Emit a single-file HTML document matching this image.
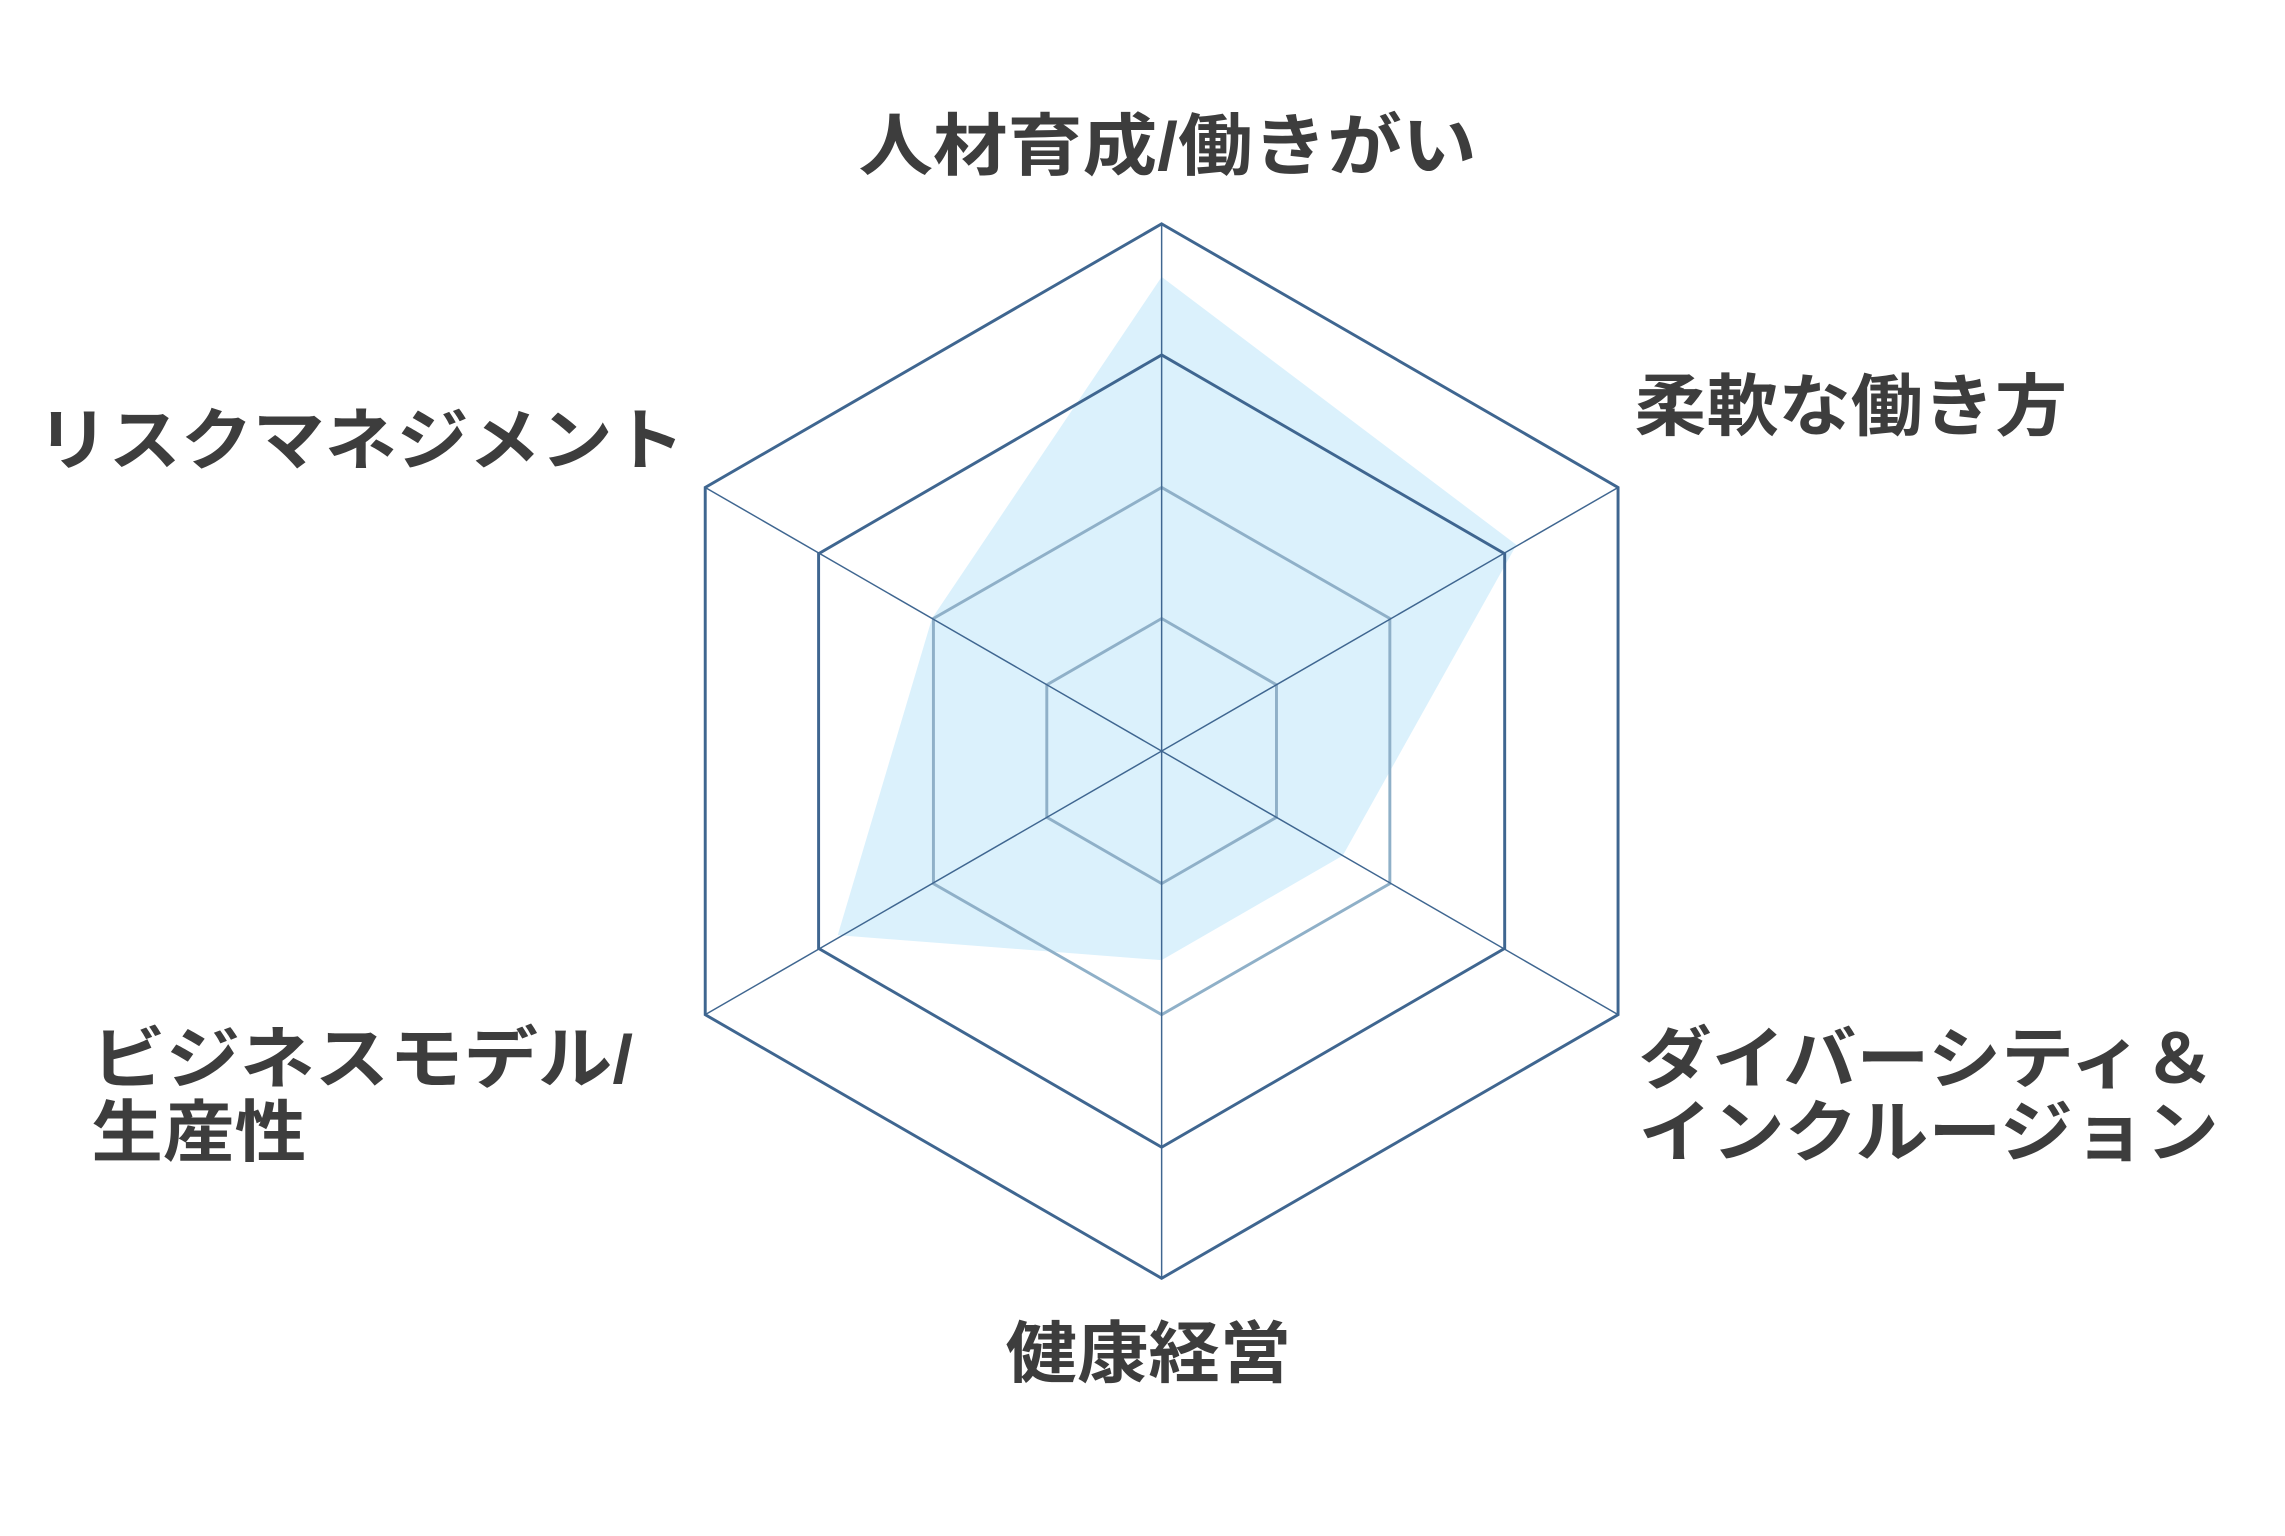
<!DOCTYPE html>
<html><head><meta charset="utf-8"><style>html,body{margin:0;padding:0;background:#fff}svg{display:block}</style></head>
<body>
<svg width="2285" height="1536" viewBox="0 0 1552 1043" preserveAspectRatio="none" xmlns="http://www.w3.org/2000/svg">
<rect width="1552" height="1043" fill="#fff"/>
<polygon points="789,188 1030,370 912,581 789,652 569,635 633,420" fill="#dbf1fc"/>
<g fill="none" stroke-linejoin="miter">
<polygon points="789,152 1099,331 1099,689 789,868 479,689 479,331" stroke="#3f6690" stroke-width="2"/>
<polygon points="789,241 1022,376 1022,644 789,779 556,644 556,376" stroke="#3f6690" stroke-width="2"/>
<polygon points="789,331 944,420 944,600 789,689 634,600 634,420" stroke="#8fb0c8" stroke-width="2"/>
<polygon points="789,420 867,465 867,555 789,600 711,555 711,465" stroke="#8fb0c8" stroke-width="2"/>
<g stroke="#3f6690" stroke-width="1">
<line x1="789" y1="152" x2="789" y2="868"/>
<line x1="479" y1="331" x2="1099" y2="689"/>
<line x1="479" y1="689" x2="1099" y2="331"/>
</g>
<polygon points="789,689 944,600 944,420" stroke="#3f6690" stroke-width="2" fill="none" opacity="0"/>
</g>
<g font-family="'Liberation Sans','Noto Sans CJK JP',sans-serif" font-weight="bold" font-size="46" fill="#3d3d3d">
<text x="583" y="115" textLength="420" lengthAdjust="spacingAndGlyphs">人材育成/働きがい</text>
<text x="1110" y="292" textLength="294" lengthAdjust="spacingAndGlyphs">柔軟な働き方</text>
<text x="25" y="315" textLength="440" lengthAdjust="spacingAndGlyphs">リスクマネジメント</text>
<text x="62" y="735" textLength="368" lengthAdjust="spacingAndGlyphs">ビジネスモデル/</text>
<text x="62" y="785" textLength="146" lengthAdjust="spacingAndGlyphs">生産性</text>
<text x="1113" y="735" textLength="392" lengthAdjust="spacingAndGlyphs">ダイバーシティ＆</text>
<text x="1113" y="785" textLength="394" lengthAdjust="spacingAndGlyphs">インクルージョン</text>
<text x="683" y="935" textLength="194" lengthAdjust="spacingAndGlyphs">健康経営</text>
</g>
</svg>
</body></html>
